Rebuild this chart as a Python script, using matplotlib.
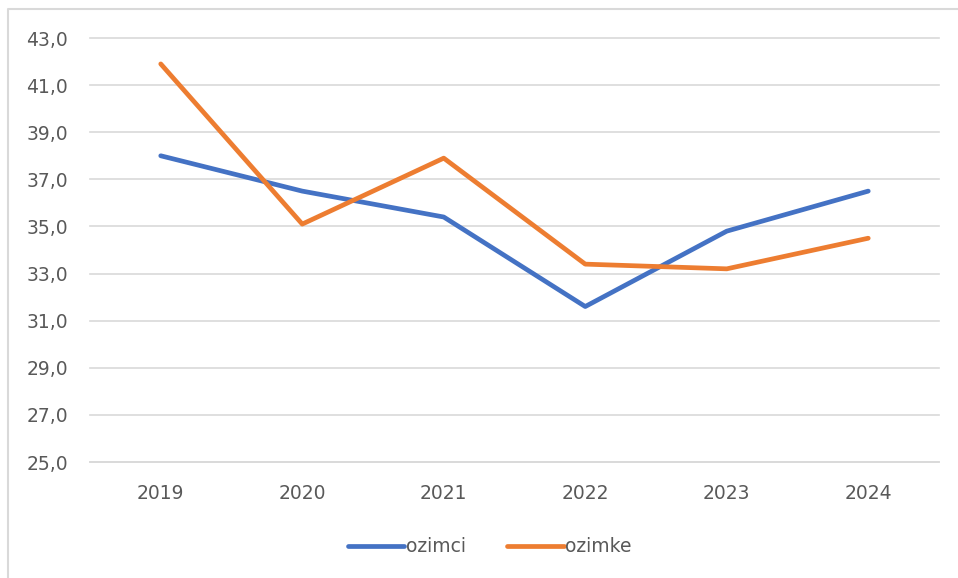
import matplotlib
matplotlib.use('Agg')
import matplotlib.pyplot as plt
from matplotlib.lines import Line2D
from matplotlib.ticker import FuncFormatter

years = ['2019', '2020', '2021', '2022', '2023', '2024']
ozimci = [38.0, 36.5, 35.4, 31.6, 34.8, 36.5]
ozimke = [41.9, 35.1, 37.9, 33.4, 33.2, 34.5]
yticks = [25, 27, 29, 31, 33, 35, 37, 39, 41, 43]

txt = '#595959'
fig = plt.figure(figsize=(9.58, 5.78), dpi=100)
ax = fig.add_axes([90/958, 1-462/578, (939-90)/958, (462-38)/578])

x = range(len(years))
ax.plot(x, ozimci, color='#4472C4', lw=3.4, label='ozimci', solid_capstyle='round', solid_joinstyle='round')
ax.plot(x, ozimke, color='#ED7D31', lw=3.4, label='ozimke', solid_capstyle='round', solid_joinstyle='round')

ax.set_xlim(-0.5, 5.5)
ax.set_ylim(25, 43)
ax.set_yticks(yticks)
ax.yaxis.set_major_formatter(FuncFormatter(lambda v, p: f'{v:.1f}'.replace('.', ',')))
ax.set_xticks(list(x))
ax.set_xticklabels(years)
ax.grid(axis='y', color='#D9D9D9', lw=1.2)
for g in ax.get_ygridlines():
    g.set_clip_on(False)
ax.set_axisbelow(True)
for s in ['top', 'right', 'left']:
    ax.spines[s].set_visible(False)
ax.spines['bottom'].set_color('#D9D9D9')
ax.spines['bottom'].set_linewidth(1.2)
ax.tick_params(length=0, labelsize=13.5, labelcolor=txt)
ax.tick_params(axis='y', pad=16)
ax.tick_params(axis='x', pad=16)

leg = fig.legend(loc='center', bbox_to_anchor=(490/958, 1-547/578), ncol=2, frameon=False,
                 fontsize=13.5, handlelength=3.0, handletextpad=0.1, columnspacing=2.2)
for t in leg.get_texts():
    t.set_color(txt)

# chart border, only top and left edges are inside the picture
top = 1 - 9/578
left = 8/958
fig.lines.append(Line2D([left, left, 1.0], [0.0, top, top], transform=fig.transFigure,
                        color='#D9D9D9', lw=1.5))

fig.savefig('out.png', dpi=100)
